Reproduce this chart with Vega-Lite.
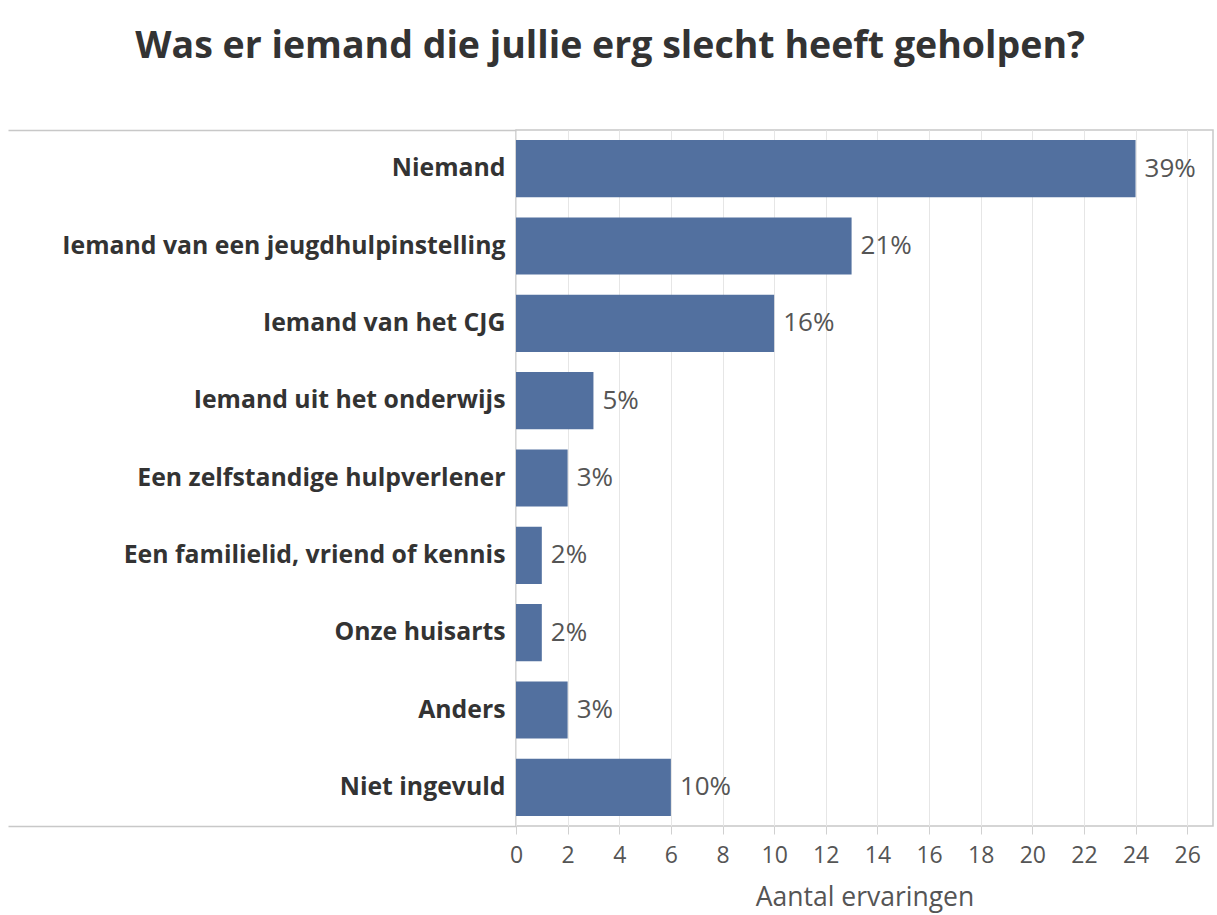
{
  "$schema": "https://vega.github.io/schema/vega-lite/v6.json",
  "autosize": {"type": "none"},
  "padding": {"left": 516, "top": 130, "right": 4, "bottom": 89},
  "width": 697,
  "height": 696,
  "background": "white",
  "title": {
    "text": "Was er iemand die jullie erg slecht heeft geholpen?",
    "font": "Open Sans",
    "fontSize": 37.5,
    "fontWeight": "bold",
    "color": "#333333",
    "anchor": "middle",
    "frame": "bounds",
    "offset": 52
  },
  "config": {
    "view": {"stroke": "#c8c8c8", "strokeWidth": 1.5},
    "font": "Open Sans"
  },
  "data": {
    "values": [
      {"categorie": "Niemand", "aantal": 24, "pct": "39%"},
      {"categorie": "Iemand van een jeugdhulpinstelling", "aantal": 13, "pct": "21%"},
      {"categorie": "Iemand van het CJG", "aantal": 10, "pct": "16%"},
      {"categorie": "Iemand uit het onderwijs", "aantal": 3, "pct": "5%"},
      {"categorie": "Een zelfstandige hulpverlener", "aantal": 2, "pct": "3%"},
      {"categorie": "Een familielid, vriend of kennis", "aantal": 1, "pct": "2%"},
      {"categorie": "Onze huisarts", "aantal": 1, "pct": "2%"},
      {"categorie": "Anders", "aantal": 2, "pct": "3%"},
      {"categorie": "Niet ingevuld", "aantal": 6, "pct": "10%"}
    ]
  },
  "encoding": {
    "x": {
      "field": "aantal",
      "type": "quantitative",
      "scale": {"domain": [0, 27], "nice": false, "zero": true},
      "axis": {
        "title": "Aantal ervaringen",
        "values": [0, 2, 4, 6, 8, 10, 12, 14, 16, 18, 20, 22, 24, 26],
        "domain": false,
        "grid": true,
        "gridColor": "#e6e6e6",
        "gridWidth": 1,
        "tickColor": "#d0d0d0",
        "tickSize": 8,
        "labelPadding": 10,
        "labelFontSize": 23,
        "labelColor": "#555555",
        "labelFlush": false,
        "titleFontSize": 26.5,
        "titleFontWeight": "normal",
        "titleColor": "#555555",
        "titlePadding": 17
      }
    }
  },
  "layer": [
    {
      "mark": {"type": "bar", "color": "#52709f", "height": {"band": 0.74}},
      "encoding": {
        "y": {
          "field": "categorie",
          "type": "nominal",
          "sort": null,
          "scale": {"paddingInner": 0, "paddingOuter": 0},
          "axis": {
            "title": null,
            "orient": "left",
            "domain": false,
            "tickBand": "extent",
            "tickSize": 508,
            "tickWidth": 1.5,
            "tickColor": {
              "condition": {
                "test": "datum.extra",
                "value": "#c8c8c8"
              },
              "value": "transparent"
            },
            "labelPadding": -497,
            "labelFontSize": 24.8,
            "labelFontWeight": "bold",
            "labelColor": "#333333",
            "labelLimit": 600
          }
        }
      }
    },
    {
      "mark": {"type": "text", "align": "left", "baseline": "middle", "dx": 9, "fontSize": 26, "color": "#555555"},
      "encoding": {
        "y": {
          "field": "categorie",
          "type": "nominal",
          "sort": null,
          "axis": {
            "title": null,
            "orient": "left",
            "domain": false,
            "labels": false,
            "grid": false,
            "tickBand": "extent",
            "tickSize": 508,
            "tickWidth": 1.5,
            "tickColor": {
              "condition": {
                "test": "datum.value === 'Niet ingevuld' && !datum.extra",
                "value": "#c8c8c8"
              },
              "value": "transparent"
            }
          }
        },
        "text": {"field": "pct"}
      }
    }
  ],
  "resolve": {"axis": {"y": "independent"}}
}
